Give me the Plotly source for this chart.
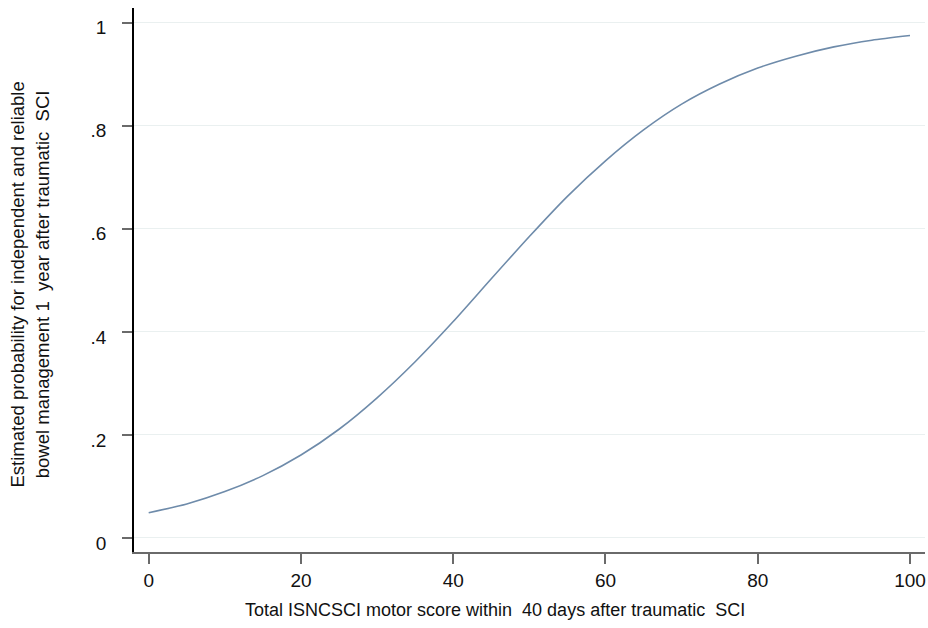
import plotly.graph_objects as go

# Predicted probability curve (motor score vs. probability)
motor_score = [0, 5, 10, 15, 20, 25, 30, 35, 40, 45, 50,
               55, 60, 65, 70, 75, 80, 85, 90, 95, 100]
probability = [0.049, 0.066, 0.090, 0.121, 0.161, 0.211, 0.272, 0.342, 0.420, 0.503, 0.585,
               0.663, 0.732, 0.792, 0.842, 0.881, 0.912, 0.935, 0.953, 0.966, 0.975]

x_ticks = [0, 20, 40, 60, 80, 100]
x_tick_labels = ["0", "20", "40", "60", "80", "100"]
y_ticks = [0, 0.2, 0.4, 0.6, 0.8, 1.0]
y_tick_labels = ["0", ".2", ".4", ".6", ".8", "1"]

x_title = "Total ISNCSCI motor score within  40 days after traumatic  SCI"
y_title = ("Estimated probability for independent and reliable<br>"
           "bowel management 1  year after traumatic  SCI")

FONT = "Liberation Sans, Arial, sans-serif"

fig = go.Figure()
fig.add_trace(go.Scatter(
    x=motor_score, y=probability, mode="lines",
    line=dict(color="#6E8BAA", width=1.6, shape="spline", smoothing=0.6),
    hoverinfo="x+y", showlegend=False,
))

fig.update_layout(
    width=928, height=628,
    margin=dict(l=134, r=3, t=8, b=76),
    paper_bgcolor="white", plot_bgcolor="white",
    font=dict(family=FONT, color="#111111"),
    xaxis=dict(
        range=[-1.93, 101.97], tickvals=x_ticks, ticktext=x_tick_labels,
        showgrid=False, zeroline=False,
        showline=True, linecolor="#6a6a6a", linewidth=2,
        ticks="outside", ticklen=10, tickwidth=1.5, tickcolor="#6a6a6a",
        tickfont=dict(size=19, family=FONT, color="#111111"),
    ),
    yaxis=dict(
        range=[-0.0272, 1.0285], tickvals=y_ticks, ticktext=y_tick_labels,
        showgrid=True, gridcolor="#EAF0F0", gridwidth=1.2, zeroline=False,
        showline=True, linecolor="#000000", linewidth=1.5,
        ticks="outside", ticklen=10, tickwidth=2, tickcolor="#6a6a6a",
        tickfont=dict(size=19, family=FONT, color="#111111"),
        ticklabelstandoff=12, ticklabelshift=5,
    ),
    annotations=[
        dict(text=x_title, xref="paper", yref="paper",
             x=0.4564, y=-0.1066, xanchor="center", yanchor="middle",
             showarrow=False, font=dict(size=18, family=FONT, color="#111111")),
        dict(text=y_title, xref="paper", yref="paper",
             x=-0.1315, y=0.4917, xanchor="center", yanchor="middle",
             textangle=-90, showarrow=False,
             font=dict(size=18.5, family=FONT, color="#111111")),
    ],
)

fig.write_html("out.html")
